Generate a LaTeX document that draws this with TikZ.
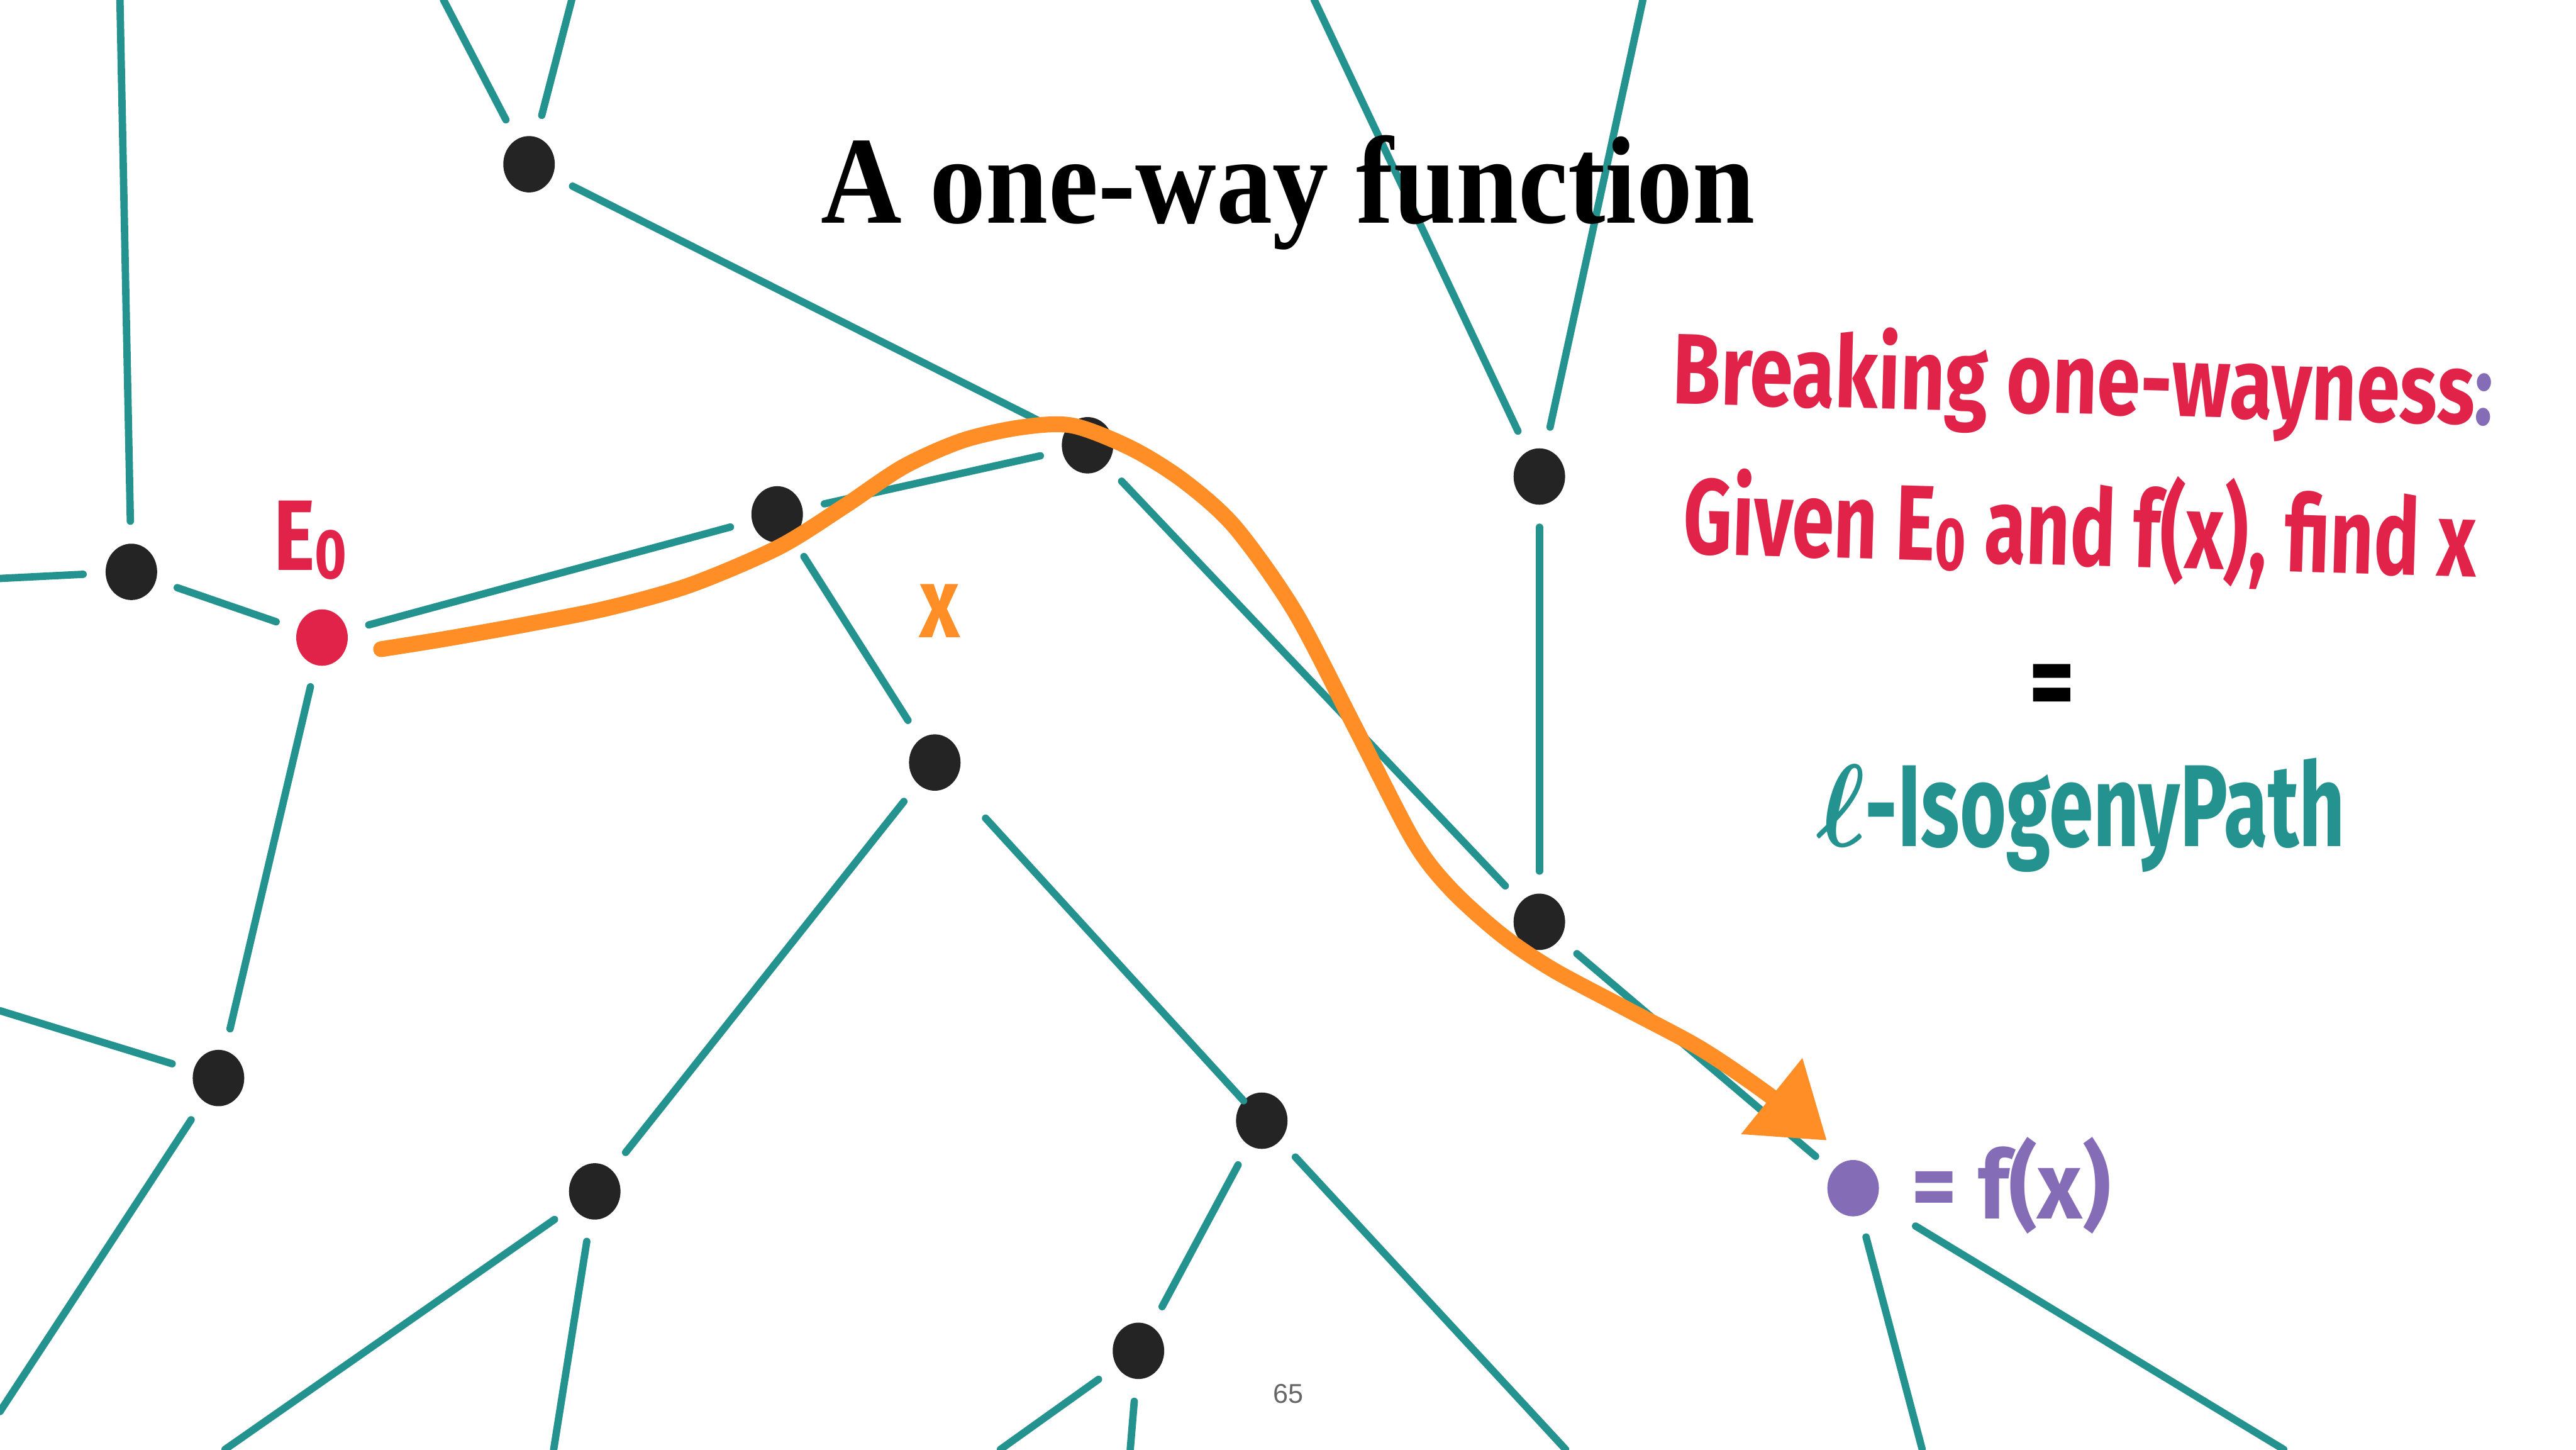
\documentclass[tikz,border=0pt]{standalone}
\usepackage{fontspec}
\usepackage{tikz}
\usetikzlibrary{shapes.geometric,arrows.meta,positioning}
\setmainfont{Liberation Serif}
\newfontfamily\titlefont[FakeStretch=0.9]{Liberation Serif}
\newfontfamily\handfont[FakeStretch=0.78]{Fira Sans}
\newfontfamily\pagefont{Liberation Sans}
\definecolor{isoteal}{HTML}{24938F}
\definecolor{isored}{HTML}{E1234A}
\definecolor{isoorange}{HTML}{FF8E26}
\definecolor{isopurple}{HTML}{856CB7}
\definecolor{dotblack}{HTML}{242424}
\definecolor{pagegrey}{HTML}{666666}
\newcommand{\Ezero}{E\raisebox{-0.08em}{\scalebox{0.7}{0}}}

\begin{document}
\begin{tikzpicture}[
  curvedot/.style={ellipse, fill=dotblack, minimum width=3.2mm, minimum height=3.5mm, inner sep=0pt, outer sep=1.4mm},
  isoline/.style={isoteal, line width=1.3pt, line cap=round},
  hand/.style={font=\handfont\bfseries\fontsize{#1pt}{#1pt}\selectfont},
]
\useasboundingbox (0,0) rectangle (16,9);
\fill[white] (0,0) rectangle (16,9);

% curves in the isogeny graph
\node[curvedot] (n1) at (3.286,7.980) {};
\node[curvedot] (n2) at (0.816,5.449) {};
\node[curvedot, fill=isored] (e0) at (2.000,5.041) {};
\node[curvedot] (n3) at (4.827,5.806) {};
\node[curvedot] (n4) at (6.755,6.235) {};
\node[curvedot] (n5) at (9.561,6.041) {};
\node[curvedot] (n6) at (5.806,4.265) {};
\node[curvedot] (n7) at (9.561,3.276) {};
\node[curvedot] (n8) at (1.357,2.306) {};
\node[curvedot] (n9) at (3.694,1.602) {};
\node[curvedot] (n10) at (7.837,2.041) {};
\node[curvedot] (n11) at (7.071,0.612) {};
\node[curvedot, fill=isopurple] (fx) at (11.510,1.622) {};

% edges leaving the slide
\coordinate (topA) at (0.745,9);
\coordinate (topB) at (2.755,9);
\coordinate (topC) at (3.551,9);
\coordinate (topD) at (8.163,9);
\coordinate (topE) at (10.204,9);
\coordinate (leftA) at (0,5.408);
\coordinate (leftB) at (0,2.724);
\coordinate (botA) at (0,0.235);
\coordinate (botB) at (3.439,0);
\coordinate (botC) at (1.398,0);
\coordinate (botD) at (9.724,0);
\coordinate (botE) at (7.020,0);
\coordinate (botF) at (6.214,0);
\coordinate (botG) at (11.939,0);
\coordinate (botH) at (14.184,0);

% isogenies
\foreach \a/\b in {n2/topA, n2/leftA, n2/e0, e0/n3, e0/n8, n8/leftB, n8/botA,
  n1/topB, n1/topC, n1/n4, n3/n4, n3/n6, n4/n7, n5/topD, n5/topE, n5/n7,
  n7/fx, n6/n9, n9/botB, n9/botC, n10/n11, n10/botD, n11/botE, n11/botF, fx/botG}
  \draw[isoline] (\a) -- (\b);
\draw[isoline, shorten <=1.6mm, shorten >=-1.4mm] (n6) -- (n10);
\draw[isoline, shorten <=1.5mm] (fx) -- (botH);

% the secret walk
\coordinate (walkstart) at (2.367,4.969);
\coordinate (walkend) at (11.347,1.918);
\draw[isoorange, line width=2.8pt, line cap=round, -{Triangle[length=4.4mm,width=5.8mm]}]
  plot[smooth] coordinates {(walkstart) (2.755,5.031) (3.265,5.122) (3.776,5.224)
  (4.286,5.367) (4.837,5.602) (5.245,5.857) (5.612,6.102) (5.980,6.265) (6.347,6.347)
  (6.663,6.357) (7.031,6.214) (7.357,6.010) (7.673,5.724) (8.041,5.204) (8.408,4.500)
  (8.776,3.786) (9.010,3.480) (9.327,3.194) (9.643,2.980) (10.102,2.735) (10.561,2.490)
  (10.969,2.214) (walkend)};

% labels
\node[font=\titlefont\bfseries\fontsize{22}{26}\selectfont, anchor=base] (title) at (8.0,7.617) {A one-way function};
\node[hand=17.7, text=isored, anchor=base, rotate=-1.5] (breaking) at (12.934,6.429) {Breaking one-wayness\textcolor{isopurple}{:}};
\node[hand=18.9, text=isored, anchor=base, rotate=-1.7] (given) at (12.913,5.490) {\scalebox{0.91}[1]{Given \Ezero{} and f(x), find x}};
\node[hand=20, text=black] (equals) at (12.745,4.70) {=};
\node[hand=20.6, text=isoteal, anchor=base] (isopath) at (12.923,3.745) {\scalebox{0.88}[1]{{\boldmath$\ell$}-IsogenyPath}};
\node[hand=16, text=isopurple, anchor=base west, inner sep=0pt] (fxlabel) at (11.867,1.43) {\scalebox{1.24}[1.05]{= f(x)}};
\node[hand=17.7, text=isored, anchor=base west, inner sep=0pt] (e0label) at (1.694,5.459) {\Ezero};
\node[hand=17.7, text=isoorange, anchor=base, inner sep=0pt] (xlabel) at (5.837,5.041) {x};
\node[font=\pagefont\fontsize{4.8}{6}\selectfont, text=pagegrey, anchor=base] (page) at (8.0,0.286) {65};
\end{tikzpicture}
\end{document}
